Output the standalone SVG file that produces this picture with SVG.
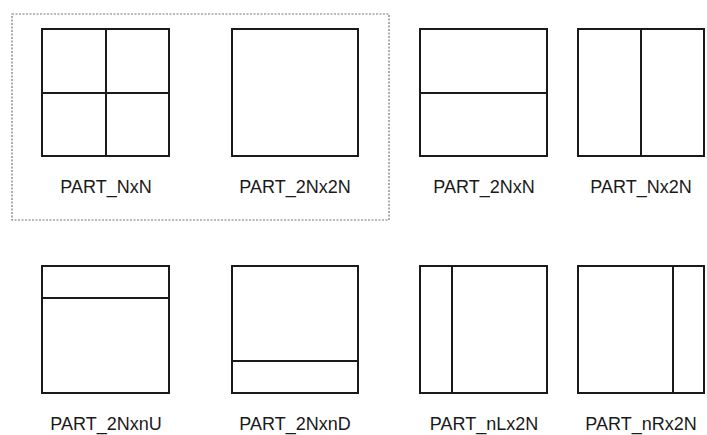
<svg xmlns="http://www.w3.org/2000/svg" width="707" height="435" viewBox="0 0 707 435">
<style>
.box{fill:none;stroke:#1a1a1a;stroke-width:2}
.div{stroke:#1a1a1a;stroke-width:2}
.lbl{font-family:"Liberation Sans",Arial,sans-serif;font-size:18px;fill:#1a1a1a;text-anchor:middle}
.frame{fill:none;stroke:#777;stroke-width:1.2;stroke-dasharray:2 1.5}
</style>
<rect width="707" height="435" fill="#fff"/>
<rect class="frame" x="12" y="14" width="377" height="206"/>
<g id="nxn">
<rect class="box" x="42" y="29" width="127" height="127"/>
<line class="div" x1="106" y1="29" x2="106" y2="156"/>
<line class="div" x1="42" y1="93" x2="169" y2="93"/>
<text class="lbl" x="106" y="193">PART_NxN</text>
</g>
<g id="2nx2n">
<rect class="box" x="232" y="29" width="126" height="127"/>
<text class="lbl" x="295" y="193">PART_2Nx2N</text>
</g>
<g id="2nxn">
<rect class="box" x="420" y="29" width="127" height="127"/>
<line class="div" x1="420" y1="93" x2="547" y2="93"/>
<text class="lbl" x="484" y="193">PART_2NxN</text>
</g>
<g id="nx2n">
<rect class="box" x="578" y="29" width="126" height="127"/>
<line class="div" x1="641" y1="29" x2="641" y2="156"/>
<text class="lbl" x="641" y="193">PART_Nx2N</text>
</g>
<g id="2nxnu">
<rect class="box" x="42" y="266" width="127" height="127"/>
<line class="div" x1="42" y1="298" x2="169" y2="298"/>
<text class="lbl" x="106" y="430">PART_2NxnU</text>
</g>
<g id="2nxnd">
<rect class="box" x="232" y="266" width="126" height="127"/>
<line class="div" x1="232" y1="361" x2="358" y2="361"/>
<text class="lbl" x="295" y="430">PART_2NxnD</text>
</g>
<g id="nlx2n">
<rect class="box" x="420" y="266" width="127" height="127"/>
<line class="div" x1="452" y1="266" x2="452" y2="393"/>
<text class="lbl" x="484" y="430">PART_nLx2N</text>
</g>
<g id="nrx2n">
<rect class="box" x="578" y="266" width="126" height="127"/>
<line class="div" x1="673" y1="266" x2="673" y2="393"/>
<text class="lbl" x="641" y="430">PART_nRx2N</text>
</g>
<g id="connectors"/>
</svg>
